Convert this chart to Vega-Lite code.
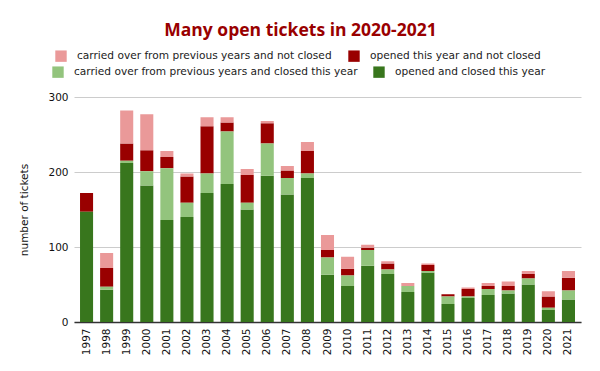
{
  "$schema": "https://vega.github.io/schema/vega-lite/v6.json",
  "width": 507,
  "height": 225,
  "autosize": {"type": "none"},
  "padding": {"left": 74, "top": 97, "right": 19, "bottom": 49},
  "background": "white",
  "title": {
    "text": "Many open tickets in 2020-2021",
    "font": "Open Sans",
    "fontSize": 17.5,
    "fontWeight": "bold",
    "color": "#990000",
    "anchor": "middle",
    "dx": -27,
    "offset": 11
  },
  "data": {
    "values": [
      {"year": "1997", "opened and closed this year": 147, "carried over from previous years and closed this year": 0, "opened this year and not closed": 25, "carried over from previous years and not closed": 0},
      {"year": "1998", "opened and closed this year": 43, "carried over from previous years and closed this year": 4, "opened this year and not closed": 25, "carried over from previous years and not closed": 20},
      {"year": "1999", "opened and closed this year": 212, "carried over from previous years and closed this year": 3, "opened this year and not closed": 23, "carried over from previous years and not closed": 44},
      {"year": "2000", "opened and closed this year": 182, "carried over from previous years and closed this year": 19, "opened this year and not closed": 28, "carried over from previous years and not closed": 48},
      {"year": "2001", "opened and closed this year": 136, "carried over from previous years and closed this year": 69, "opened this year and not closed": 15, "carried over from previous years and not closed": 8},
      {"year": "2002", "opened and closed this year": 140, "carried over from previous years and closed this year": 19, "opened this year and not closed": 35, "carried over from previous years and not closed": 4},
      {"year": "2003", "opened and closed this year": 172, "carried over from previous years and closed this year": 26, "opened this year and not closed": 63, "carried over from previous years and not closed": 12},
      {"year": "2004", "opened and closed this year": 184, "carried over from previous years and closed this year": 70, "opened this year and not closed": 12, "carried over from previous years and not closed": 7},
      {"year": "2005", "opened and closed this year": 150, "carried over from previous years and closed this year": 9, "opened this year and not closed": 37, "carried over from previous years and not closed": 8},
      {"year": "2006", "opened and closed this year": 195, "carried over from previous years and closed this year": 43, "opened this year and not closed": 27, "carried over from previous years and not closed": 3},
      {"year": "2007", "opened and closed this year": 170, "carried over from previous years and closed this year": 22, "opened this year and not closed": 10, "carried over from previous years and not closed": 6},
      {"year": "2008", "opened and closed this year": 192, "carried over from previous years and closed this year": 6, "opened this year and not closed": 30, "carried over from previous years and not closed": 12},
      {"year": "2009", "opened and closed this year": 63, "carried over from previous years and closed this year": 23, "opened this year and not closed": 10, "carried over from previous years and not closed": 20},
      {"year": "2010", "opened and closed this year": 48, "carried over from previous years and closed this year": 14, "opened this year and not closed": 9, "carried over from previous years and not closed": 16},
      {"year": "2011", "opened and closed this year": 75, "carried over from previous years and closed this year": 21, "opened this year and not closed": 3, "carried over from previous years and not closed": 4},
      {"year": "2012", "opened and closed this year": 64, "carried over from previous years and closed this year": 6, "opened this year and not closed": 8, "carried over from previous years and not closed": 3},
      {"year": "2013", "opened and closed this year": 40, "carried over from previous years and closed this year": 8, "opened this year and not closed": 0, "carried over from previous years and not closed": 4},
      {"year": "2014", "opened and closed this year": 66, "carried over from previous years and closed this year": 2, "opened this year and not closed": 8, "carried over from previous years and not closed": 2},
      {"year": "2015", "opened and closed this year": 24, "carried over from previous years and closed this year": 10, "opened this year and not closed": 3, "carried over from previous years and not closed": 0},
      {"year": "2016", "opened and closed this year": 32, "carried over from previous years and closed this year": 2, "opened this year and not closed": 10, "carried over from previous years and not closed": 2},
      {"year": "2017", "opened and closed this year": 36, "carried over from previous years and closed this year": 8, "opened this year and not closed": 4, "carried over from previous years and not closed": 4},
      {"year": "2018", "opened and closed this year": 38, "carried over from previous years and closed this year": 4, "opened this year and not closed": 6, "carried over from previous years and not closed": 6},
      {"year": "2019", "opened and closed this year": 50, "carried over from previous years and closed this year": 8, "opened this year and not closed": 6, "carried over from previous years and not closed": 4},
      {"year": "2020", "opened and closed this year": 16, "carried over from previous years and closed this year": 3, "opened this year and not closed": 15, "carried over from previous years and not closed": 7},
      {"year": "2021", "opened and closed this year": 30, "carried over from previous years and closed this year": 12, "opened this year and not closed": 17, "carried over from previous years and not closed": 9}
    ]
  },
  "transform": [
    {"fold": ["opened and closed this year", "carried over from previous years and closed this year", "opened this year and not closed", "carried over from previous years and not closed"], "as": ["category", "tickets"]},
    {"calculate": "indexof(['opened and closed this year', 'carried over from previous years and closed this year', 'opened this year and not closed', 'carried over from previous years and not closed'], datum.category)", "as": "stackorder"},
    {"stack": "tickets", "groupby": ["year"], "sort": [{"field": "stackorder", "order": "ascending"}], "as": ["t0", "t1"]}
  ],
  "encoding": {
    "x": {
      "field": "year",
      "type": "ordinal",
      "scale": {"paddingInner": 0.35, "paddingOuter": 0.3},
      "axis": {
        "title": null,
        "labelAngle": -90,
        "labelFont": "DejaVu Sans",
        "labelFontSize": 10.5,
        "labelColor": "#111111",
        "ticks": false,
        "labelPadding": 6,
        "domainColor": "#333333",
        "domainWidth": 1.5
      }
    },
    "y": {
      "field": "t0",
      "type": "quantitative",
      "scale": {"domain": [0, 300]},
      "axis": {
        "title": "number of tickets",
        "titleFont": "DejaVu Sans",
        "titleFontSize": 10.5,
        "titleFontWeight": "normal",
        "titleColor": "#111111",
        "titlePadding": 18,
        "values": [0, 100, 200, 300],
        "labelFont": "DejaVu Sans",
        "labelFontSize": 10.5,
        "labelColor": "#111111",
        "labelPadding": 6,
        "domain": false,
        "ticks": false,
        "gridColor": "#cccccc",
        "gridWidth": 1
      }
    },
    "y2": {"field": "t1"}
  },
  "layer": [
    {
      "transform": [{"filter": "datum.stackorder >= 2"}],
      "mark": {"type": "bar"},
      "encoding": {
        "color": {
          "field": "category",
          "type": "nominal",
          "scale": {
            "domain": ["carried over from previous years and not closed", "opened this year and not closed"],
            "range": ["#ea9999", "#990000"]
          },
          "legend": {
            "title": null,
            "orient": "none",
            "legendX": -19,
            "legendY": -47,
            "direction": "horizontal",
            "symbolType": "square",
            "symbolSize": 130,
            "symbolStrokeWidth": 0,
            "labelFont": "DejaVu Sans",
            "labelFontSize": 10.6,
            "labelColor": "#222222",
            "labelOffset": 10,
            "columnPadding": 16,
            "labelLimit": 400
          }
        }
      }
    },
    {
      "transform": [{"filter": "datum.stackorder < 2"}],
      "mark": {"type": "bar"},
      "encoding": {
        "color": {
          "field": "category",
          "type": "nominal",
          "scale": {
            "domain": ["carried over from previous years and closed this year", "opened and closed this year"],
            "range": ["#93c47d", "#38761d"]
          },
          "legend": {
            "title": null,
            "orient": "none",
            "legendX": -22,
            "legendY": -31,
            "direction": "horizontal",
            "symbolType": "square",
            "symbolSize": 130,
            "symbolStrokeWidth": 0,
            "labelFont": "DejaVu Sans",
            "labelFontSize": 10.6,
            "labelColor": "#222222",
            "labelOffset": 10,
            "columnPadding": 15,
            "labelLimit": 400
          }
        }
      }
    }
  ],
  "resolve": {"scale": {"color": "independent"}},
  "config": {
    "view": {"stroke": null}
  }
}
